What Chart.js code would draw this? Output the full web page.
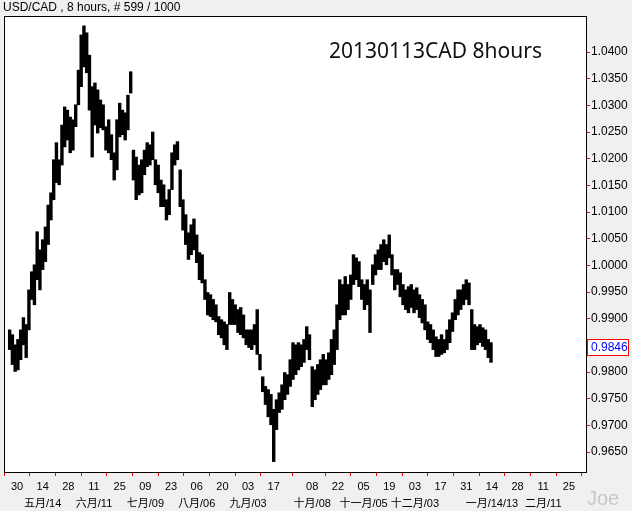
<!DOCTYPE html>
<html>
<head>
<meta charset="utf-8">
<script src="https://cdn.jsdelivr.net/npm/chart.js@4.4.1/dist/chart.umd.min.js"></script>
<style>
html,body{margin:0;padding:0;background:#f0f0f0;}
#wrap{width:632px;height:511px;position:relative;}
</style>
</head>
<body>
<div id="wrap"><canvas id="c" width="632" height="511"></canvas></div>
<script>
// ---- data ----
const symbolTitle = 'USD/CAD , 8 hours, # 599 / 1000';
const chartTitle = '20130113CAD 8hours';
const watermark = 'Joe';
const lastPrice = 0.9846;

const sampleStart = '2012-04-26';
const sampleHours = 36;

const highs = [
0.9879,0.9870,0.9851,0.9861,0.9879,0.9902,0.9889,0.9954,0.9988,1.0001,
1.0063,1.0029,1.0048,1.0072,1.0113,1.0136,1.0198,1.0230,1.0198,1.0263,
1.0297,1.0291,1.0278,1.0273,1.0301,1.0366,1.0432,1.0449,1.0436,1.0394,
1.0335,1.0342,1.0329,1.0310,1.0301,1.0260,1.0273,1.0245,1.0211,1.0273,
1.0304,1.0291,1.0286,1.0319,1.0363,1.0216,1.0203,1.0188,1.0198,1.0216,
1.0230,1.0226,1.0250,1.0198,1.0188,1.0160,1.0151,1.0123,1.0142,1.0211,
1.0226,1.0232,1.0179,1.0123,1.0095,1.0061,1.0076,1.0087,1.0057,1.0024,
1.0020,0.9973,0.9949,0.9945,0.9936,0.9926,0.9904,0.9898,0.9894,0.9889,
0.9949,0.9936,0.9926,0.9917,0.9921,0.9907,0.9879,0.9879,0.9879,0.9889,
0.9917,0.9833,0.9791,0.9773,0.9767,0.9758,0.9730,0.9748,0.9761,0.9776,
0.9799,0.9795,0.9823,0.9855,0.9851,0.9855,0.9851,0.9861,0.9885,0.9870,
0.9810,0.9804,0.9814,0.9823,0.9833,0.9823,0.9836,0.9861,0.9879,0.9926,
0.9973,0.9964,0.9979,0.9964,0.9982,1.0020,1.0014,1.0007,0.9973,0.9964,
0.9973,0.9954,1.0001,1.0020,1.0029,1.0039,1.0048,1.0039,1.0057,1.0020,
0.9992,0.9992,0.9986,0.9964,0.9954,0.9960,0.9964,0.9954,0.9958,0.9945,
0.9936,0.9926,0.9894,0.9889,0.9879,0.9866,0.9861,0.9870,0.9861,0.9879,
0.9898,0.9911,0.9936,0.9954,0.9954,0.9964,0.9973,0.9967,0.9917,0.9889,
0.9885,0.9889,0.9883,0.9879,0.9861,0.9855
];
const lows = [
0.9842,0.9814,0.9801,0.9804,0.9823,0.9851,0.9827,0.9879,0.9936,0.9926,
0.9973,0.9954,0.9992,1.0007,1.0039,1.0085,1.0123,1.0155,1.0151,1.0188,
1.0222,1.0235,1.0211,1.0216,1.0260,1.0301,1.0335,1.0372,1.0361,1.0291,
1.0203,1.0263,1.0248,1.0258,1.0254,1.0216,1.0211,1.0198,1.0160,1.0179,
1.0241,1.0245,1.0235,1.0254,1.0323,1.0160,1.0123,1.0132,1.0136,1.0170,
1.0185,1.0188,1.0198,1.0151,1.0136,1.0110,1.0110,1.0085,1.0095,1.0142,
1.0188,1.0198,1.0110,1.0066,1.0039,1.0011,1.0020,1.0029,1.0005,0.9973,
0.9967,0.9936,0.9907,0.9904,0.9898,0.9894,0.9870,0.9864,0.9851,0.9842,
0.9889,0.9889,0.9889,0.9874,0.9870,0.9864,0.9851,0.9846,0.9842,0.9851,
0.9833,0.9804,0.9763,0.9739,0.9716,0.9701,0.9632,0.9692,0.9724,0.9730,
0.9748,0.9758,0.9773,0.9786,0.9795,0.9804,0.9810,0.9818,0.9842,0.9823,
0.9735,0.9748,0.9758,0.9767,0.9776,0.9776,0.9786,0.9795,0.9814,0.9842,
0.9898,0.9907,0.9907,0.9917,0.9936,0.9964,0.9973,0.9960,0.9936,0.9917,
0.9926,0.9874,0.9964,0.9982,0.9992,0.9992,1.0007,1.0001,1.0014,0.9982,
0.9954,0.9964,0.9941,0.9926,0.9917,0.9911,0.9921,0.9911,0.9917,0.9902,
0.9892,0.9879,0.9861,0.9855,0.9842,0.9829,0.9829,0.9833,0.9836,0.9842,
0.9855,0.9876,0.9898,0.9907,0.9917,0.9926,0.9936,0.9926,0.9842,0.9842,
0.9851,0.9855,0.9848,0.9842,0.9827,0.9818
];

const axisStart = '2012-04-30';
const tickDates = ['2012-04-30','2012-05-14','2012-05-28','2012-06-11','2012-06-25','2012-07-09','2012-07-23','2012-08-06','2012-08-20','2012-09-03','2012-09-17','2012-10-08','2012-10-22','2012-11-05','2012-11-19','2012-12-03','2012-12-17','2012-12-31','2013-01-14','2013-01-28','2013-02-11','2013-02-25'];
const tickDays = ['30','14','28','11','25','09','23','06','20','03','17','08','22','05','19','03','17','31','14','28','11','25'];
const tickMonths = ['','五月/14','','六月/11','','七月/09','','八月/06','','九月/03','','十月/08','','十一月/05','','十二月/03','','','一月/14/13','','二月/11',''];
const priceTicks = [0.9650,0.9700,0.9750,0.9800,0.9900,0.9950,1.0000,1.0050,1.0100,1.0150,1.0200,1.0250,1.0300,1.0350,1.0400];

// ---- build ----
const DAY = 86400000;
const t0 = Date.parse(axisStart + 'T00:00:00Z');
const s0 = (Date.parse(sampleStart + 'T00:00:00Z') - t0) / DAY;
const barData = highs.map((h, i) => ({ x: s0 + i * sampleHours / 24, y: [lows[i], h] }));
const tickVals = tickDates.map(d => (Date.parse(d + 'T00:00:00Z') - t0) / DAY);

const FONT = "'Liberation Sans', Arial, 'Noto Sans CJK TC', sans-serif";

const decor = {
  id: 'decor',
  beforeDraw(chart) {
    const { ctx, chartArea: a } = chart;
    ctx.save();
    ctx.fillStyle = '#f0f0f0';
    ctx.fillRect(0, 0, chart.width, chart.height);
    ctx.fillStyle = '#ffffff';
    ctx.fillRect(a.left, a.top, a.right - a.left, a.bottom - a.top);
    ctx.restore();
  },
  afterDraw(chart) {
    const { ctx, chartArea: a } = chart;
    const y = chart.scales.y;
    ctx.save();
    ctx.strokeStyle = '#000';
    ctx.lineWidth = 1;
    ctx.strokeRect(a.left + 0.5, a.top + 0.5, a.right - a.left, a.bottom - a.top);
    ctx.fillStyle = '#000';
    ctx.font = '12px ' + FONT;
    ctx.textBaseline = 'middle';
    ctx.textAlign = 'left';
    ctx.fillText(symbolTitle, 3, 8);
    ctx.font = "21px 'Noto Sans', sans-serif";
    ctx.fillStyle = '#111';
    ctx.fillText(chartTitle, 329, 52);
    ctx.font = '20px ' + FONT;
    ctx.fillStyle = '#c8c8c8';
    ctx.fillText(watermark, 587, 499);
    // current price box
    const py = Math.round(y.getPixelForValue(lastPrice));
    ctx.fillStyle = '#fff';
    ctx.fillRect(a.right + 1, py - 8, 41, 16);
    ctx.strokeStyle = '#ff0000';
    ctx.strokeRect(a.right + 1.5, py - 7.5, 41, 16);
    ctx.fillStyle = '#0000ff';
    ctx.font = '12px ' + FONT;
    ctx.fillText(lastPrice.toFixed(4), a.right + 5, py + 0.5);
    ctx.restore();
  }
};

new Chart(document.getElementById('c'), {
  type: 'bar',
  data: {
    datasets: [{
      data: barData,
      backgroundColor: '#000',
      borderColor: '#000',
      borderWidth: 0,
      barPercentage: 1,
      categoryPercentage: 1,
      grouped: false
    }]
  },
  options: {
    responsive: false,
    animation: false,
    devicePixelRatio: 1,
    layout: { padding: { top: 16, left: 4, right: 0, bottom: 0 } },
    plugins: { legend: { display: false }, tooltip: { enabled: false }, title: { display: false } },
    scales: {
      x: {
        type: 'linear',
        position: 'bottom',
        min: -7.09,
        max: 310.3,
        offset: false,
        afterFit(s) { s.height = 39; },
        afterBuildTicks(s) { s.ticks = tickVals.map(v => ({ value: v })); },
        grid: { drawOnChartArea: false, drawTicks: true, tickLength: 4, tickColor: '#ff0000', tickWidth: 1 },
        border: { display: true, color: '#000', width: 1 },
        ticks: {
          autoSkip: false, maxRotation: 0, minRotation: 0, padding: 3,
          color: '#000',
          font: { size: 11, family: FONT, lineHeight: 1.5 },
          callback(v, i) { return [tickDays[i], tickMonths[i]]; }
        }
      },
      y: {
        type: 'linear',
        position: 'right',
        min: 0.96125,
        max: 1.04675,
        afterFit(s) { s.width = 46; },
        afterBuildTicks(s) { s.ticks = priceTicks.map(v => ({ value: v })); },
        grid: { drawOnChartArea: false, drawTicks: true, tickLength: 4, tickColor: '#ff0000', tickWidth: 1 },
        border: { display: true, color: '#000', width: 1 },
        ticks: {
          autoSkip: false, padding: 1, color: '#000',
          font: { size: 12, family: FONT },
          callback(v) { return Number(v).toFixed(4); }
        }
      }
    }
  },
  plugins: [decor]
});
</script>
</body>
</html>
